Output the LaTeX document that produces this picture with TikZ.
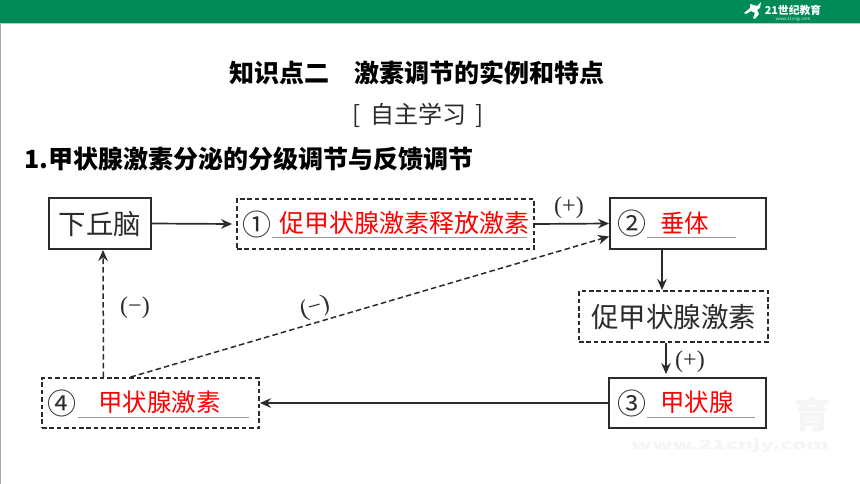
\documentclass[tikz,border=0pt]{standalone}
\usepackage{fontspec}
\setmainfont{Noto Sans CJK SC}
\newfontfamily\romanfont{Liberation Serif}
\usetikzlibrary{arrows,arrows.meta,positioning}
\definecolor{bandgreen}{HTML}{008A58}
\definecolor{inkgrey}{HTML}{2B2B2B}
\tikzset{solidbox/.style={
    % The shape:
    rectangle,
    inner sep=0pt,
    % The border:
    line width=1.9pt,
    draw=inkgrey,
    },
    dashbox/.style={
    solidbox,
    dash pattern=on 4.6pt off 2.8pt,
    line width=1.8pt,
    },
    circnum/.style={
    font=\fontsize{29}{29}\selectfont,
    text=inkgrey,
    inner sep=0pt,
    },
    answer/.style={
    font=\fontsize{24.5}{25}\selectfont,
    text=red,
    inner sep=0pt,
    },
    boxtext/.style={
    font=\fontsize{27.5}{28}\selectfont,
    text=inkgrey,
    inner sep=0pt,
    },
    signlabel/.style={
    font=\romanfont\fontsize{24}{24}\selectfont,
    text=inkgrey,
    inner sep=0pt,
    },
    blankline/.style={
    rectangle,
    fill=black!40,
    inner sep=0pt,
    minimum height=1pt,
    },
    link/.style={
    -{Stealth[length=11pt,width=9.5pt]},
    line width=1.7pt,
    draw=inkgrey,
    },
    dashlink/.style={
    link,
    line width=1.5pt,
    dash pattern=on 5.5pt off 3.2pt,
    },
    watermark/.style={
    text=black!4,
    inner sep=0pt,
    },
}
\begin{document}
\begin{tikzpicture}[x=1pt,y=-1pt]
    \useasboundingbox (0,0) rectangle (860,484);
    \fill[white] (0,0) rectangle (860,484);
    \fill[black!35] (0,24) rectangle (1.2,484);
    \fill[bandgreen] (0,0) rectangle (860,23.5);
    \fill[bandgreen!35] (0,23.5) rectangle (860,24.5);

    % logo in the band
    \fill[white] (750,4) -- (757,6) -- (761,2) -- (760,8) -- (757,10) -- (759,14) -- (755,19) -- (753,18) -- (755,13) -- (751,11) -- (746,14) -- (744,13) -- (750,8) -- cycle;
    \node (logoname) [font=\bfseries\itshape\fontsize{10.8}{11}\selectfont,text=white,inner sep=0pt] at (793,10) {21世纪教育};
    \node (logourl)  [font=\fontsize{4.4}{5}\selectfont,text=white!85!bandgreen,inner sep=0pt] at (793,19.5) {www.21cnjy.com};

    % faint mark behind the lower right corner
    \node (markword) [watermark,font=\bfseries\fontsize{36}{36}\selectfont] at (812,415) {育};
    \node (markurl)  [watermark,font=\bfseries\fontsize{13}{13}\selectfont,xscale=1.75] at (730,446) {www.21cnjy.com};

    % headings
    \node (title)   [font=\bfseries\fontsize{25}{26}\selectfont,inner sep=0pt] at (416.5,73) {知识点二\hspace{25pt}激素调节的实例和特点};
    \node (study)   [font=\fontsize{24}{25}\selectfont,text=inkgrey,inner sep=0pt] at (418,115) {[\hspace{9pt}自主学习\hspace{9pt}]};
    \node (topic)   [font=\bfseries\fontsize{25}{26}\selectfont,inner sep=0pt,anchor=west] at (24,159) {1.甲状腺激素分泌的分级调节与反馈调节};

    % boxes
    \node (hypo)    [solidbox,minimum width=102pt,minimum height=51pt] at (100,223.5) {};
    \node (trh)     [dashbox,minimum width=297pt,minimum height=50pt] at (385.5,224) {};
    \node (pit)     [solidbox,minimum width=156pt,minimum height=51pt] at (688,223.5) {};
    \node (tsh)     [dashbox,minimum width=189pt,minimum height=51pt] at (673.5,316.5) {};
    \node (thy)     [solidbox,minimum width=157pt,minimum height=50pt] at (687.5,403) {};
    \node (hormone) [dashbox,minimum width=217pt,minimum height=50pt] at (150.5,403) {};

    % box texts
    \node (hypotext) [boxtext] at (100,224) {下丘脑};
    \node (tshtext)  [boxtext] at (673.5,317) {促甲状腺激素};

    \node (num1) [circnum] at (256.5,224) {①};
    \node (num2) [circnum] at (631.5,223) {②};
    \node (num3) [circnum] at (631.5,403) {③};
    \node (num4) [circnum] at (61.5,403) {④};

    \node (trhtext)  [answer,font=\fontsize{25}{26}\selectfont] at (404.5,223) {促甲状腺激素释放激素};
    \node (pittext)  [answer] at (684.5,223) {垂体};
    \node (thytext)  [answer] at (697,402) {甲状腺};
    \node (hormtext) [answer] at (159.5,402) {甲状腺激素};

    \node (trhline)  [blankline,minimum width=255pt] at (399.5,237.5) {};
    \node (pitline)  [blankline,minimum width=89pt]  at (691.5,237.5) {};
    \node (thyline)  [blankline,minimum width=108pt] at (701,417) {};
    \node (hormline) [blankline,minimum width=171pt] at (163.5,417) {};

    % connectors
    \draw[link] (hypo.east) -- ([xshift=-4pt]trh.west);
    \draw[link] (trh.east) -- (pit.west);
    \draw[link] ([xshift=-26pt]pit.south) -- ([xshift=-11.5pt]tsh.north);
    \draw[link] ([xshift=-7.5pt]tsh.south) -- ([xshift=-21.5pt,yshift=3pt]thy.north);
    \draw[link] (thy.west) -- (hormone.east);
    \draw[dashlink] ([xshift=-47pt]hormone.north) -- ([xshift=3pt]hypo.south);
    \draw[dashlink] ([xshift=-20pt]hormone.north) -- ([yshift=-13pt]pit.west);

    % signs
    \node (plus1)  [signlabel] at (569,208) {(+)};
    \node (plus2)  [signlabel] at (690,362) {(+)};
    \node (minus1) [signlabel] at (135,308) {(−)};
    \node (minus2) [signlabel,rotate=15] at (315,308) {(−)};
\end{tikzpicture}
\end{document}
